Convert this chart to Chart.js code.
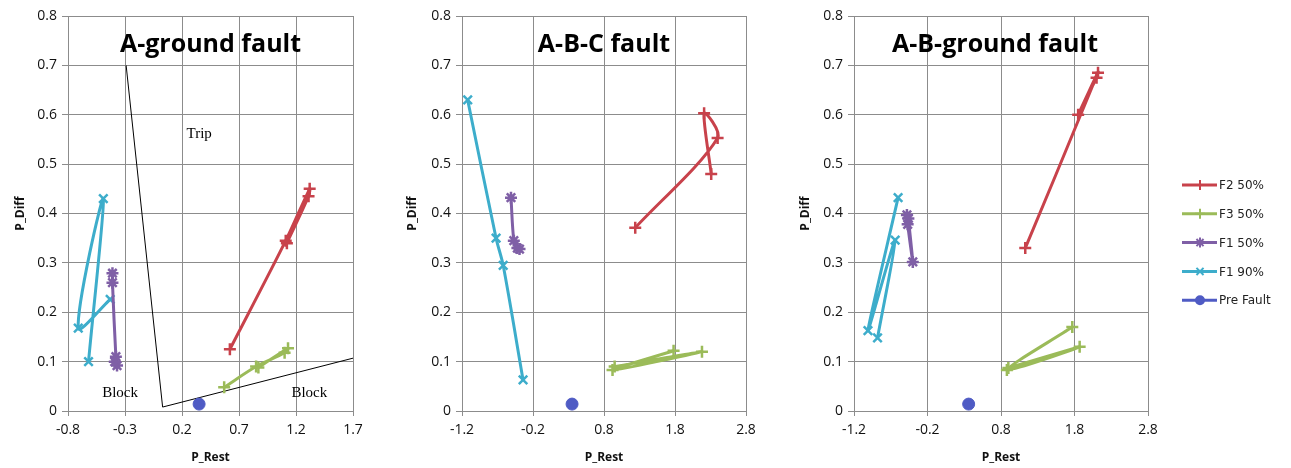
<!DOCTYPE html>
<html>
<head>
<meta charset="utf-8">
<script src="https://cdn.jsdelivr.net/npm/chart.js@4.4.1/dist/chart.umd.min.js"></script>
<style>
  body { margin: 0; background: #fff; width: 1291px; height: 468px; overflow: hidden; position: relative; }
  canvas { position: absolute; top: 0; }
</style>
</head>
<body>
<canvas id="ag" width="370" height="468" style="left:0"></canvas>
<canvas id="abc" width="400" height="468" style="left:370px"></canvas>
<canvas id="abg" width="521" height="468" style="left:770px"></canvas>
<script>
const seriesNames = ['F2 50%', 'F3 50%', 'F1 50%', 'F1 90%', 'Pre Fault'];
const yTicks = [0, 0.1, 0.2, 0.3, 0.4, 0.5, 0.6, 0.7, 0.8];

// A-ground fault  [P_Rest, P_Diff]
const agXTicks = [-0.8, -0.3, 0.2, 0.7, 1.2, 1.7];
const agF2 = [[0.62, 0.125], [1.11, 0.345], [1.32, 0.45], [1.31, 0.435], [1.12, 0.34]];
const agF3 = [[0.57, 0.048], [0.85, 0.09], [1.10, 0.118], [1.13, 0.127], [0.87, 0.088]];
const agF1_50 = [[-0.41, 0.279], [-0.41, 0.26], [-0.38, 0.11], [-0.37, 0.092], [-0.39, 0.10]];
const agF1_90 = [[-0.62, 0.10], [-0.49, 0.43], [-0.71, 0.168], [-0.43, 0.226]];
const agPre = [[0.35, 0.014]];
const agBoundary = [[-0.29, 0.70], [0.03, 0.008], [1.7, 0.107]];
const agZoneText = ['Trip', 'Block', 'Block'];
const agZoneAt = [[0.24, 0.553], [-0.50, 0.028], [1.16, 0.028]];

// A-B-C fault
const abcXTicks = [-1.2, -0.2, 0.8, 1.8, 2.8];
const abcF2 = [[1.24, 0.371], [2.40, 0.553], [2.21, 0.603], [2.31, 0.48]];
const abcF3 = [[1.78, 0.122], [0.92, 0.083], [2.18, 0.12], [0.95, 0.09]];
const abcF1_50 = [[-0.51, 0.432], [-0.47, 0.345], [-0.42, 0.33], [-0.39, 0.328]];
const abcF1_90 = [[-1.12, 0.63], [-0.72, 0.35], [-0.62, 0.295], [-0.34, 0.063]];
const abcPre = [[0.35, 0.014]];

// A-B-ground fault
const abgXTicks = [-1.2, -0.2, 0.8, 1.8, 2.8];
const abgF2 = [[1.13, 0.33], [2.12, 0.685], [1.85, 0.60], [2.10, 0.675]];
const abgF3 = [[1.77, 0.17], [0.88, 0.083], [1.87, 0.13], [0.90, 0.087]];
const abgF1_50 = [[-0.48, 0.397], [-0.47, 0.378], [-0.40, 0.302], [-0.46, 0.39]];
const abgF1_90 = [[-0.88, 0.148], [-0.64, 0.346], [-1.01, 0.163], [-0.60, 0.432]];
const abgPre = [[0.36, 0.014]];

const colors = ['#C8424B', '#9BBB59', '#7F5FA6', '#3DADCB', '#4F5BC4'];
const markers = ['cross', 'cross', 'star', 'crossRot', 'circle'];
const gridColor = '#8c8c8c';
const uiFont = '"Open Sans", "DejaVu Sans", sans-serif';

const toXY = pts => pts.map(p => ({ x: p[0], y: p[1] }));

// chart title drawn over the plot area like the Excel overlay title
const overlayText = {
  id: 'overlayText',
  afterDraw(chart, args, opts) {
    const { ctx, chartArea, scales } = chart;
    ctx.save();
    ctx.fillStyle = '#000';
    ctx.font = 'bold 25px ' + uiFont;
    ctx.textAlign = 'center';
    ctx.textBaseline = 'alphabetic';
    ctx.fillText(opts.title, (chartArea.left + chartArea.right) / 2 + (opts.shift || 0), 52);
    ctx.textAlign = 'left';
    if (opts.zones) {
      ctx.font = '15px "Liberation Serif", "DejaVu Serif", serif';
      opts.zones.forEach((t, i) => {
        ctx.fillText(t, scales.x.getPixelForValue(opts.zoneAt[i][0]), scales.y.getPixelForValue(opts.zoneAt[i][1]));
      });
    }
    if (opts.legend) {
      const lx = chartArea.right + 34;
      ctx.font = '12px "DejaVu Sans", sans-serif';
      ctx.textBaseline = 'middle';
      seriesNames.forEach((name, i) => {
        const ly = 185 + i * 28.8;
        ctx.strokeStyle = colors[i];
        ctx.fillStyle = colors[i];
        ctx.lineWidth = 3;
        ctx.beginPath();
        ctx.moveTo(lx, ly);
        ctx.lineTo(lx + 35, ly);
        ctx.stroke();
        ctx.lineWidth = 2;
        Chart.helpers.drawPoint(ctx, { pointStyle: markers[i], radius: i === 4 ? 4 : 5, rotation: 0, borderWidth: 2 }, lx + 18, ly);
        ctx.fillStyle = '#222';
        ctx.fillText(name, lx + 37, ly + 1);
      });
    }
    ctx.restore();
  }
};

function faultChart(id, series, xTicks, box, overlay, boundary) {
  const datasets = series.map((pts, i) => ({
    label: seriesNames[i],
    data: toXY(pts),
    showLine: i < 4,
    borderColor: colors[i],
    backgroundColor: colors[i],
    borderWidth: 3,
    tension: 0.3,
    pointStyle: markers[i],
    pointRadius: i === 4 ? 6 : 6,
    pointBorderWidth: i === 4 ? 1 : 2.5,
    pointHoverRadius: 6
  }));
  if (boundary) {
    datasets.push({
      label: 'boundary',
      data: toXY(boundary),
      showLine: true,
      borderColor: '#000',
      borderWidth: 1,
      pointRadius: 0,
      tension: 0
    });
  }
  return new Chart(document.getElementById(id), {
    type: 'scatter',
    data: { datasets: datasets },
    options: {
      responsive: false,
      animation: false,
      layout: { padding: { left: 0, right: box.right, top: 16, bottom: 0 } },
      plugins: {
        legend: { display: false },
        tooltip: { enabled: false },
        overlayText: overlay
      },
      scales: {
        x: {
          type: 'linear',
          min: xTicks[0],
          max: xTicks[xTicks.length - 1],
          afterBuildTicks: s => { s.ticks = xTicks.map(v => ({ value: v })); },
          afterFit: s => { s.height = 57; },
          grid: { color: gridColor, tickLength: 5 },
          border: { color: gridColor },
          ticks: { color: '#111', font: { family: uiFont, size: 14 }, padding: 6, maxRotation: 0, callback: v => String(v) },
          title: { display: true, text: 'P_Rest', color: '#111', font: { family: uiFont, size: 12, weight: 'bold' }, padding: { top: 0, bottom: 3 } }
        },
        y: {
          type: 'linear',
          min: 0,
          max: 0.8,
          afterBuildTicks: s => { s.ticks = yTicks.map(v => ({ value: v })); },
          afterFit: s => { s.width = box.left; },
          grid: { color: gridColor, tickLength: 6 },
          border: { color: gridColor },
          ticks: { color: '#111', font: { family: uiFont, size: 14 }, padding: 5, callback: v => String(v) },
          title: { display: true, text: 'P_Diff', color: '#111', font: { family: uiFont, size: 12, weight: 'bold' }, padding: { top: box.titleX, bottom: 0 } }
        }
      }
    },
    plugins: [overlayText]
  });
}

faultChart('ag', [agF2, agF3, agF1_50, agF1_90, agPre], agXTicks,
  { left: 68, right: 17, titleX: 13 },
  { title: 'A-ground fault', zones: agZoneText, zoneAt: agZoneAt }, agBoundary);

faultChart('abc', [abcF2, abcF3, abcF1_50, abcF1_90, abcPre], abcXTicks,
  { left: 92, right: 24, titleX: 35 },
  { title: 'A-B-C fault' });

faultChart('abg', [abgF2, abgF3, abgF1_50, abgF1_90, abgPre], abgXTicks,
  { left: 84, right: 143, titleX: 28 },
  { title: 'A-B-ground fault', shift: -6, legend: true });
</script>
</body>
</html>
